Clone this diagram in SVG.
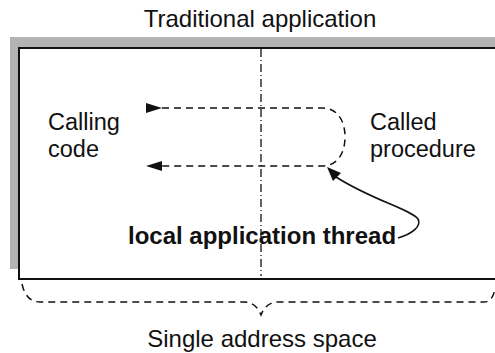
<svg xmlns="http://www.w3.org/2000/svg" width="495" height="353" viewBox="0 0 495 353">
<style>
text{font-family:"Liberation Sans",Arial,Helvetica,sans-serif;font-size:23.5px;fill:#111}
.b{font-weight:bold;font-size:24px}
.t{font-size:24px}
.dash{fill:none;stroke:#111;stroke-width:1.5;stroke-dasharray:7 5}
.solid{fill:none;stroke:#111;stroke-width:1.6}
.head{fill:#111}
</style>
<rect width="495" height="353" fill="#fff"/>
<g id="address-space">
<rect x="10" y="37" width="500" height="232" fill="#b3b3b3"/>
<rect x="19" y="48" width="500" height="231" fill="#fff" stroke="#111" stroke-width="2"/>
<line x1="261" y1="49" x2="261" y2="276" stroke="#111" stroke-width="1.3" stroke-dasharray="8 3 1 3"/>
</g>
<g id="title"><text class="t" x="260" y="27" text-anchor="middle">Traditional application</text></g>
<g id="calling"><text x="48" y="130">Calling</text><text x="48" y="157">code</text></g>
<g id="called"><text x="370" y="130">Called</text><text x="370" y="157">procedure</text></g>
<g id="thread"><text class="b" x="128" y="244">local application thread</text></g>
<g id="single"><text class="t" x="262" y="347" text-anchor="middle">Single address space</text></g>
<g id="connectors">
<path class="dash" d="M162 108 H322 C337 108 345 120 345 137 C345 154 337 166 322 166 H162"/>
<polygon class="head" points="146,103 162,108 146,113"/>
<polygon class="head" points="146,166 162,161 162,171"/>
<path class="solid" d="M398 238 C412 234 422 226 418 219 C412 210 372 200 336 177"/>
<polygon class="head" points="327,167 341,173 333,181"/>
<path class="dash" d="M22 284 Q26 302 40 302 H244 Q256 302 261 315 Q266 302 278 302 H484 Q493 302 495 288"/>
</g>
</svg>
